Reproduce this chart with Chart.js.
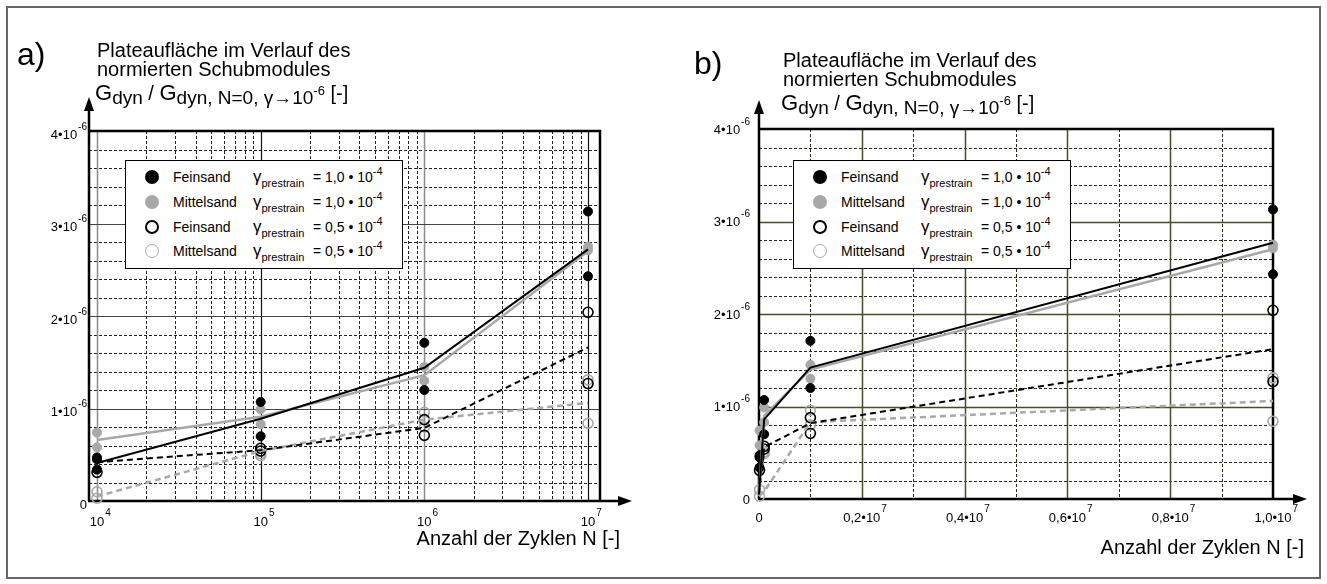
<!DOCTYPE html>
<html>
<head>
<meta charset="utf-8">
<title>Plateaufläche</title>
<script src="https://cdn.jsdelivr.net/npm/chart.js"></script>
<style>
    body {
        margin: 0;
        background: #fff;
        color: #000;
        font-family: "Liberation Sans", Arial, sans-serif;
    }
    #page {
        position: relative;
        width: 1327px;
        height: 584px;
        overflow: hidden;
    }
    .frame {
        position: absolute;
        left: 6px;
        top: 6px;
        width: 1315px;
        height: 573px;
        box-sizing: border-box;
        border: 2px solid #666;
    }
    canvas {
        position: absolute;
        top: 0;
    }
    .txt {
        position: absolute;
        white-space: nowrap;
        font-size: 20px;
        line-height: 20px;
        z-index: 2;
    }
    .panel {
        position: absolute;
        font-size: 32px;
        line-height: 32px;
        z-index: 2;
    }
    .G { font-size: 22px; }
    .sb { position: relative; top: 4px; font-size: 19px; }
    .sp { position: relative; top: -9px; font-size: 13px; }
    .legend {
        position: absolute;
        box-sizing: border-box;
        width: 278px;
        height: 109px;
        background: #fff;
        border: 1.5px solid #000;
        z-index: 2;
    }
    .lrow {
        position: absolute;
        height: 20px;
        line-height: 20px;
        font-size: 14px;
        white-space: nowrap;
        z-index: 3;
    }
    .lrow > span { position: absolute; top: 0; }
    .mk {
        width: 14px;
        height: 14px;
        border-radius: 50%;
        box-sizing: border-box;
        margin-top: 3px;
    }
    .gam { font-size: 17px; }
    .gsub { position: relative; top: 5px; font-size: 11px; }
    .esup { position: relative; top: -7px; font-size: 11px; }
</style>
</head>
<body>
<div id="page">
    <div class="frame"></div>
    <canvas id="chartA" width="660" height="584" style="left:0"></canvas>
    <canvas id="chartB" width="667" height="584" style="left:660px"></canvas>

    <div class="panel" style="left:17px; top:38px">a)</div>
    <div class="txt" style="left:97px; top:40px">Plateaufläche im Verlauf des</div>
    <div class="txt" style="left:97px; top:59px">normierten Schubmodules</div>
    <div class="txt" style="left:95px; top:83px"><span class="G">G</span><span class="sb">dyn</span> / <span class="G">G</span><span class="sb">dyn, N=0, γ→10<span class="sp">-6</span></span> [-]</div>
    <div class="txt" style="right:707px; top:528px">Anzahl der Zyklen N [-]</div>

    <div class="panel" style="left:694px; top:47px">b)</div>
    <div class="txt" style="left:783px; top:50px">Plateaufläche im Verlauf des</div>
    <div class="txt" style="left:783px; top:69px">normierten Schubmodules</div>
    <div class="txt" style="left:781px; top:93px"><span class="G">G</span><span class="sb">dyn</span> / <span class="G">G</span><span class="sb">dyn, N=0, γ→10<span class="sp">-6</span></span> [-]</div>
    <div class="txt" style="right:23px; top:537px">Anzahl der Zyklen N [-]</div>
</div>
<script>
    // load cycles of the measurements
    const cycles = [1e4, 1e5, 1e6, 1e7];

    // measured plateau areas (x 10^-6), one list per load-cycle count
    const feinsand10 = [[0.47, 0.45, 0.34], [1.07, 0.70], [1.71, 1.20], [3.13, 2.43]];
    const mittelsand10 = [[0.74, 0.58], [0.99, 0.83], [1.45, 1.30], [2.75, 2.71]];
    const feinsand05 = [[0.31], [0.57, 0.54], [0.88, 0.71], [2.04, 1.27]];
    const mittelsand05 = [[0.10, 0.03], [0.51, 0.49], [0.96, 0.80], [1.31, 0.84]];

    // trend lines in the log chart (a)
    const logTrendN = [1e4, 1e5, 1e6, 1e7];
    const logFein10 = [0.41, 0.89, 1.44, 2.72];
    const logMittel10 = [0.66, 0.91, 1.36, 2.70];
    const logFein05 = [0.42, 0.55, 0.79, 1.66];
    const logMittel05 = [0.05, 0.54, 0.88, 1.06];

    // trend lines in the linear chart (b)
    const linTrendN = [0, 1e5, 1e6, 1e7];
    const linFein10 = [0.05, 0.86, 1.42, 2.77];
    const linMittel10 = [0.05, 0.90, 1.40, 2.70];
    const linFein05 = [0.05, 0.56, 0.82, 1.62];
    const linMittel05 = [0.03, 0.08, 0.83, 1.06];

    // axis ticks
    const yTickValues = [0, 1, 2, 3, 4];
    const yTickLabels = ['0', '1•10^-6', '2•10^-6', '3•10^-6', '4•10^-6'];
    const logTickValues = [1e4, 1e5, 1e6, 1e7];
    const logTickLabels = ['10^4', '10^5', '10^6', '10^7'];
    const linTickValues = [0, 2e6, 4e6, 6e6, 8e6, 1e7];
    const linTickLabels = ['0', '0,2•10^7', '0,4•10^7', '0,6•10^7', '0,8•10^7', '1,0•10^7'];

    // legend
    const seriesNames = ['Feinsand', 'Mittelsand', 'Feinsand', 'Mittelsand'];
    const seriesGamma = ['1,0', '1,0', '0,5', '0,5'];

    const GRAY = '#a8a8a8';
    const FONT = '"Liberation Sans", Arial, sans-serif';
    const measured = [feinsand10, mittelsand10, feinsand05, mittelsand05];
    const pointStyles = [
        { bg: '#000', border: '#000', r: 4.5, w: 1 },
        { bg: GRAY, border: GRAY, r: 4.5, w: 1 },
        { bg: 'rgba(255,255,255,0)', border: '#000', r: 5, w: 1.6 },
        { bg: 'rgba(255,255,255,0)', border: GRAY, r: 5, w: 1.6 }
    ];
    const trendStyles = [
        { color: '#000', width: 2, dash: [] },
        { color: GRAY, width: 2.5, dash: [] },
        { color: '#000', width: 2, dash: [6, 4] },
        { color: GRAY, width: 2.5, dash: [6, 4] }
    ];

    function buildDatasets(trendN, trends) {
        const sets = [];
        trends.forEach((t, i) => {
            sets.push({
                data: trendN.map((n, j) => ({ x: n, y: t[j] })),
                showLine: true,
                pointRadius: 0,
                borderColor: trendStyles[i].color,
                borderWidth: trendStyles[i].width,
                borderDash: trendStyles[i].dash,
                tension: 0,
                clip: false
            });
        });
        measured.forEach((m, i) => {
            const pts = [];
            m.forEach((vals, j) => vals.forEach(v => pts.push({ x: cycles[j], y: v })));
            sets.push({
                data: pts,
                showLine: false,
                pointRadius: pointStyles[i].r,
                pointBackgroundColor: pointStyles[i].bg,
                pointBorderColor: pointStyles[i].border,
                pointBorderWidth: pointStyles[i].w,
                clip: false
            });
        });
        return sets;
    }

    // text with an optional raised part after '^'
    function drawLabel(ctx, text, x, y, align, size, raise) {
        const parts = text.split('^');
        ctx.font = size + 'px ' + FONT;
        const wb = ctx.measureText(parts[0]).width;
        ctx.font = (size - 3) + 'px ' + FONT;
        const ws = parts[1] ? ctx.measureText(parts[1]).width + 1 : 0;
        let left = x;
        if (align === 'right') left = x - wb - ws;
        if (align === 'center') left = x - wb / 2;
        ctx.textAlign = 'left';
        ctx.textBaseline = 'middle';
        ctx.fillStyle = '#000';
        ctx.font = size + 'px ' + FONT;
        ctx.fillText(parts[0], left, y);
        if (parts[1]) {
            ctx.font = (size - 3) + 'px ' + FONT;
            ctx.fillText(parts[1], left + wb + 1, y - raise);
        }
    }

    const paperPlugin = {
        id: 'paper',
        beforeDatasetsDraw(chart, args, o) {
            const ctx = chart.ctx, a = chart.chartArea;
            const sx = chart.scales.x, sy = chart.scales.y;
            const vline = (v, color, width, dash) => {
                const px = Math.round(sx.getPixelForValue(v)) + 0.5;
                ctx.strokeStyle = color; ctx.lineWidth = width; ctx.setLineDash(dash);
                ctx.beginPath(); ctx.moveTo(px, a.top); ctx.lineTo(px, a.bottom); ctx.stroke();
            };
            const hline = (v, color, width, dash) => {
                const py = Math.round(sy.getPixelForValue(v)) + 0.5;
                ctx.strokeStyle = color; ctx.lineWidth = width; ctx.setLineDash(dash);
                ctx.beginPath(); ctx.moveTo(a.left, py); ctx.lineTo(a.right, py); ctx.stroke();
            };
            ctx.save();

            // minor grid
            o.xMinor.forEach(v => vline(v, o.minorColor, 1, [3, 2]));
            for (let k = 1; k < 20; k++) {
                if (k % 5) hline(k / 5, o.minorColor, 1, [3, 2]);
            }
            // major grid
            o.xMajor.forEach((v, i) => {
                const s = o.xMajorStyle[i % o.xMajorStyle.length];
                vline(v, s.color, s.width, []);
            });
            [1, 2, 3].forEach(v => hline(v, o.yMajorColor, o.yMajorWidth, []));

            // frame and axes
            ctx.setLineDash([]);
            ctx.strokeStyle = '#000';
            ctx.fillStyle = '#000';
            ctx.lineWidth = 2.5;
            ctx.beginPath();
            ctx.moveTo(a.left, a.top); ctx.lineTo(a.right, a.top); ctx.lineTo(a.right, a.bottom);
            ctx.stroke();
            const tipY = a.top - o.arrowUp, tipX = a.right + o.arrowRight;
            ctx.beginPath();
            ctx.moveTo(a.left, a.bottom); ctx.lineTo(a.left, tipY + 10);
            ctx.moveTo(a.left - 1, a.bottom); ctx.lineTo(tipX - 10, a.bottom);
            ctx.stroke();
            ctx.beginPath();
            ctx.moveTo(a.left, tipY); ctx.lineTo(a.left - 5, tipY + 14); ctx.lineTo(a.left + 5, tipY + 14);
            ctx.closePath(); ctx.fill();
            ctx.beginPath();
            ctx.moveTo(tipX, a.bottom); ctx.lineTo(tipX - 14, a.bottom - 5); ctx.lineTo(tipX - 14, a.bottom + 5);
            ctx.closePath(); ctx.fill();

            // tick labels
            o.yTicks.forEach((v, i) => {
                drawLabel(ctx, o.yLabels[i], a.left - o.yGap, sy.getPixelForValue(v) + o.yDy, 'right', 13, 8);
            });
            o.xTicks.forEach((v, i) => {
                drawLabel(ctx, o.xLabels[i], sx.getPixelForValue(v), a.bottom + o.xDy, 'center', 13, 9);
            });
            ctx.restore();
        }
    };

    function makeOptions(xScale, padding, paper) {
        return {
            responsive: false,
            animation: false,
            devicePixelRatio: 1,
            layout: { padding: padding, autoPadding: false },
            scales: {
                x: Object.assign({ display: false }, xScale),
                y: { type: 'linear', min: 0, max: 4, display: false }
            },
            plugins: {
                legend: { display: false },
                tooltip: { enabled: false },
                paper: paper
            }
        };
    }

    // minor positions of the log grid: 2..9 x 10^k
    const logMinor = [];
    [1e4, 1e5, 1e6].forEach(d => { for (let m = 2; m <= 9; m++) logMinor.push(m * d); });

    new Chart(document.getElementById('chartA'), {
        type: 'scatter',
        data: { datasets: buildDatasets(logTrendN, [logFein10, logMittel10, logFein05, logMittel05]) },
        options: makeOptions(
            { type: 'logarithmic', min: 8935, max: 1.184e7 },
            { left: 89, right: 60, top: 131, bottom: 83 },
            {
                xMinor: logMinor,
                xMajor: logTickValues,
                xMajorStyle: [{ color: '#8a8a8a', width: 1.5 }, { color: '#111', width: 1.2 }],
                yMajorColor: '#444', yMajorWidth: 1.2,
                minorColor: '#222',
                arrowUp: 34, arrowRight: 32,
                yTicks: yTickValues, yLabels: yTickLabels, yGap: 2, yDy: 4,
                xTicks: logTickValues, xLabels: logTickLabels, xDy: 21
            }
        ),
        plugins: [paperPlugin]
    });

    new Chart(document.getElementById('chartB'), {
        type: 'scatter',
        data: { datasets: buildDatasets(linTrendN, [linFein10, linMittel10, linFein05, linMittel05]) },
        options: makeOptions(
            { type: 'linear', min: 0, max: 1e7 },
            { left: 99, right: 54, top: 129, bottom: 85 },
            {
                xMinor: [1e6, 3e6, 5e6, 7e6, 9e6],
                xMajor: [2e6, 4e6, 6e6, 8e6],
                xMajorStyle: [{ color: '#4a4a2c', width: 1.5 }],
                yMajorColor: '#4a4a2c', yMajorWidth: 1.5,
                minorColor: '#2a2a1c',
                arrowUp: 29, arrowRight: 34,
                yTicks: yTickValues, yLabels: yTickLabels, yGap: 9, yDy: 1,
                xTicks: linTickValues, xLabels: linTickLabels, xDy: 19
            }
        ),
        plugins: [paperPlugin]
    });

    // legends
    const markerCss = [
        'background:#000',
        'background:' + GRAY,
        'border:2px solid #000',
        'border:1.5px solid ' + GRAY
    ];
    const page = document.getElementById('page');
    function buildLegend(left, top) {
        const box = document.createElement('div');
        box.className = 'legend';
        box.style.left = left + 'px';
        box.style.top = top + 'px';
        page.appendChild(box);
        const rowCenters = [17, 42, 67, 91];
        seriesNames.forEach((name, i) => {
            const row = document.createElement('div');
            row.className = 'lrow';
            row.style.left = left + 'px';
            row.style.top = (top + rowCenters[i] - 10) + 'px';
            row.innerHTML =
                '<span class="mk" style="left:20px;' + markerCss[i] + '"></span>' +
                '<span style="left:48px">' + name + '</span>' +
                '<span class="gam" style="left:128px">γ<span class="gsub">prestrain</span></span>' +
                '<span style="left:188px">= ' + seriesGamma[i] + ' • 10<span class="esup">-4</span></span>';
            page.appendChild(row);
        });
    }
    buildLegend(125, 160);
    buildLegend(793, 160);
</script>
</body>
</html>
